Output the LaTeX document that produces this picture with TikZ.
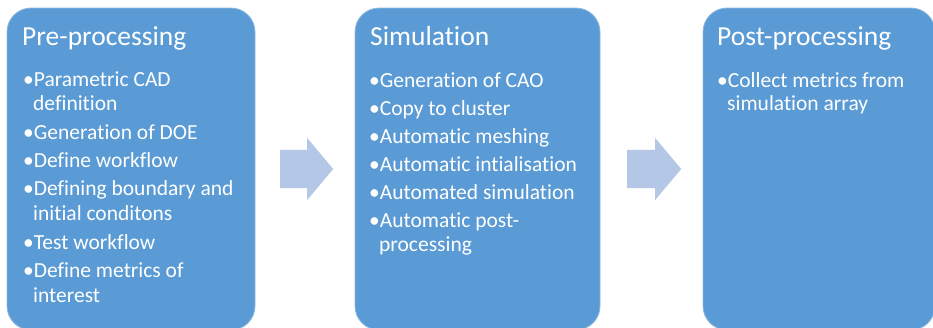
\documentclass[tikz,border=0pt]{standalone}
\usepackage{fontspec}
\setmainfont{Carlito}[Ligatures=NoCommon]
\usetikzlibrary{shapes.arrows}
\definecolor{boxblue}{HTML}{5B9BD5}
\definecolor{arrowblue}{HTML}{B4C7E7}
\tikzset{
  stagebox/.style={rectangle, rounded corners=24pt, fill=boxblue, draw=boxblue!70!white, line width=0.8pt, minimum height=322pt, inner sep=0pt},
  titletext/.style={anchor=base west, inner sep=0pt, text=white, font=\fontsize{27.5}{30}\selectfont},
  itemtext/.style={anchor=base west, inner sep=0pt, text=white, font=\fontsize{21.5}{24}\selectfont},
  flowarrow/.style={single arrow, anchor=tail, fill=arrowblue, draw=none, inner xsep=0pt, inner ysep=19pt, single arrow head extend=12pt, single arrow tip angle=100, single arrow head indent=0pt}
}
\begin{document}
\begin{tikzpicture}[x=1pt,y=-1pt]
\useasboundingbox (0,0) rectangle (933,327);
\clip (0,0) rectangle (933,327);
\fill[white] (0,0) rectangle (933,327);
% boxes
\node[stagebox, minimum width=248pt] (b1) at (131,169) {};
\node[stagebox, minimum width=245pt] (b2) at (477.5,169) {};
\node[stagebox, minimum width=232pt] (b3) at (819,169) {};
% arrows
\node[flowarrow, minimum height=53pt] (a1) at (280,169) {};
\node[flowarrow, minimum height=54pt] (a2) at (627,169) {};
% box 1
\node[titletext] (t1) at (22,45) {Pre-processing};
\node[itemtext] (p1) at (23,86) {•Parametric CAD};
\node[itemtext] (p1b) at (33,110) {definition};
\node[itemtext] (p2) at (23,139) {•Generation of DOE};
\node[itemtext] (p3) at (23,167) {•Define workflow};
\node[itemtext] (p4) at (23,195) {•Defining boundary and};
\node[itemtext] (p4b) at (33,220) {initial conditons};
\node[itemtext] (p5) at (23,249) {•Test workflow};
\node[itemtext] (p6) at (23,277) {•Define metrics of};
\node[itemtext] (p6b) at (33,302) {interest};
% box 2
\node[titletext] (t2) at (370,45) {Simulation};
\node[itemtext] (s1) at (369,87) {•Generation of CAO};
\node[itemtext] (s2) at (369,115) {•Copy to cluster};
\node[itemtext] (s3) at (369,143) {•Automatic meshing};
\node[itemtext] (s4) at (369,171) {•Automatic intialisation};
\node[itemtext] (s5) at (369,199) {•Automated simulation};
\node[itemtext] (s6) at (369,227) {•Automatic post-};
\node[itemtext] (s6b) at (379,251) {processing};
% box 3
\node[titletext] (t3) at (717,45) {Post-processing};
\node[itemtext] (q1) at (717,87) {•Collect metrics from};
\node[itemtext] (q1b) at (727,110) {simulation array};
\end{tikzpicture}
\end{document}
